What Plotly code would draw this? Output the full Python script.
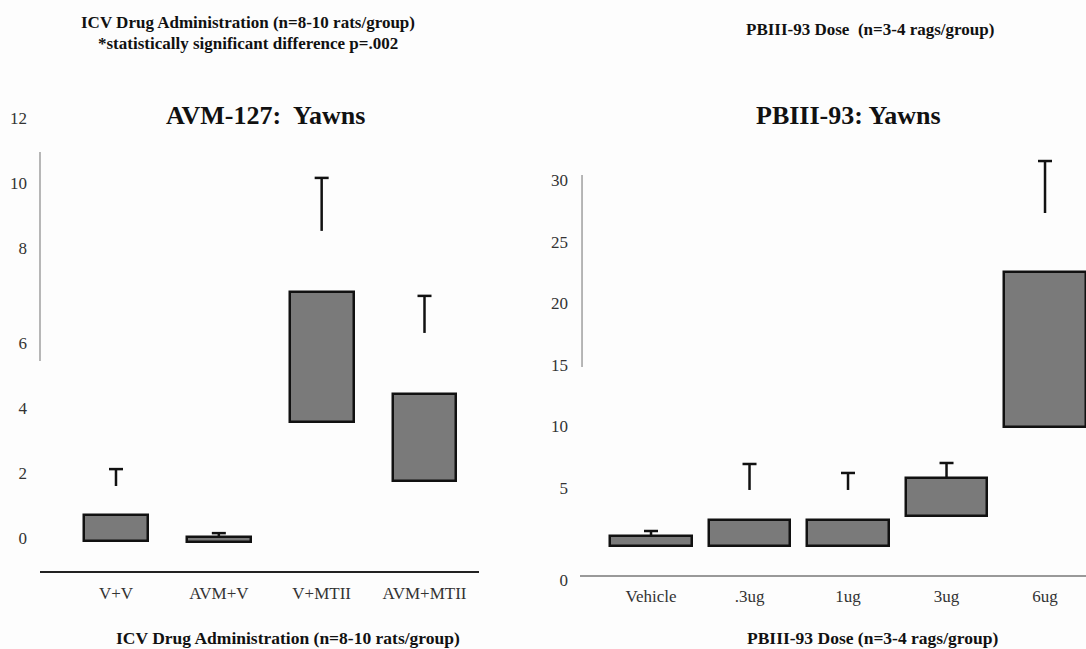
import plotly.graph_objects as go

# ---------------- data ----------------
avm_groups = ["V+V", "AVM+V", "V+MTII", "AVM+MTII"]
avm_bar_low = [-0.09, -0.12, 3.57, 1.75]
avm_bar_high = [0.71, 0.03, 7.57, 4.43]
avm_err_low = [1.60, 0.03, 9.45, 6.31]
avm_err_high = [2.12, 0.15, 11.08, 7.45]
avm_tick_labels = ["0", "2", "4", "6", "8", "10", "12"]
avm_tick_vals = [0, 2, 4, 6, 8.92, 10.92, 12.92]

pb_groups = ["Vehicle", ".3ug", "1ug", "3ug", "6ug"]
pb_bar_low = [0.29, 0.29, 0.29, 2.73, 9.95]
pb_bar_high = [1.10, 2.40, 2.40, 5.81, 22.53]
pb_err_low = [1.10, 4.84, 4.84, 5.81, 27.32]
pb_err_high = [1.51, 6.95, 6.22, 7.03, 31.54]
pb_tick_labels = ["0", "5", "10", "15", "20", "25", "30"]
pb_tick_vals = [-2.47, 5, 10, 15, 20, 25, 30]

# ---------------- figure ----------------
W, H = 1086, 649
FONT = "Liberation Serif"
BAR_FILL = "#7a7a7a"
INK = "#111111"


def px_x(p):
    return p / W


def px_y(p):
    return 1 - p / H


fig = go.Figure()


def add_panel(groups, lo, hi, elo, ehi, xa, ya, width):
    fig.add_trace(go.Bar(
        x=groups, y=[h - l for l, h in zip(lo, hi)], base=lo,
        width=width, marker=dict(color=BAR_FILL, line=dict(color=INK, width=2.5)),
        xaxis=xa, yaxis=ya, showlegend=False, hoverinfo="skip"))
    ex, ey = [], []
    for g, a, b in zip(groups, elo, ehi):
        ex += [g, g, g]
        ey += [a, b, None]
    fig.add_trace(go.Scatter(
        x=ex, y=ey, mode="lines", line=dict(color=INK, width=2.5),
        xaxis=xa, yaxis=ya, showlegend=False, hoverinfo="skip", connectgaps=False))
    fig.add_trace(go.Scatter(
        x=groups, y=ehi, mode="markers",
        marker=dict(symbol="line-ew", size=10, line=dict(color=INK, width=2.5)),
        xaxis=xa, yaxis=ya, showlegend=False, hoverinfo="skip"))


add_panel(avm_groups, avm_bar_low, avm_bar_high, avm_err_low, avm_err_high, "x", "y", 0.62)
add_panel(pb_groups, pb_bar_low, pb_bar_high, pb_err_low, pb_err_high, "x2", "y2", 0.83)

tickfont = dict(family=FONT, size=17, color="#333333")

PB_ZERO_PX, PB_PX_PER = 549.6, 12.32
PB_BOTTOM_PX = 584
PB_AXIS_PX = 576

fig.update_layout(
    width=W, height=H,
    margin=dict(l=0, r=0, t=0, b=0, pad=0, autoexpand=False),
    paper_bgcolor="#fdfdfd", plot_bgcolor="rgba(0,0,0,0)",
    bargap=0,
    xaxis=dict(domain=[px_x(40), px_x(479)], range=[-0.739, 3.53],
               showline=True, linecolor="#222222", linewidth=2,
               showgrid=False, zeroline=False, ticks="", tickfont=tickfont,
               anchor="y", ticklabelstandoff=6, automargin=False),
    yaxis=dict(domain=[px_y(571), px_y(100)], range=[(538 - 571) / 32.5, (538 - 100) / 32.5],
               showline=False, showgrid=False, zeroline=False, ticks="",
               tickvals=avm_tick_vals, ticktext=avm_tick_labels, tickfont=tickfont,
               anchor="x", ticklabelstandoff=12, automargin=False),
    xaxis2=dict(domain=[px_x(580), 1.0], range=[-0.721, 4.416],
                showline=False,
                showgrid=False, zeroline=False, ticks="", tickfont=tickfont,
                anchor="y2", ticklabelstandoff=0, automargin=False),
    yaxis2=dict(domain=[px_y(PB_BOTTOM_PX), px_y(100)],
                range=[(PB_ZERO_PX - PB_BOTTOM_PX) / PB_PX_PER, (PB_ZERO_PX - 100) / PB_PX_PER],
                showline=False, showgrid=False, zeroline=False, ticks="",
                tickvals=pb_tick_vals, ticktext=pb_tick_labels, tickfont=tickfont,
                anchor="x2", ticklabelstandoff=11, automargin=False),
    shapes=[
        dict(type="line", xref="x domain", yref="y", x0=0, x1=0,
             y0=(538 - 152) / 32.5, y1=(538 - 361) / 32.5,
             line=dict(color="#888888", width=1.2)),
        dict(type="line", xref="x2 domain", yref="y2", x0=0.004, x1=0.004,
             y0=(PB_ZERO_PX - 175) / PB_PX_PER, y1=(PB_ZERO_PX - 367) / PB_PX_PER,
             line=dict(color="#888888", width=1.2)),
        dict(type="line", xref="x2 domain", yref="y2", x0=0, x1=1,
             y0=(PB_ZERO_PX - PB_AXIS_PX) / PB_PX_PER, y1=(PB_ZERO_PX - PB_AXIS_PX) / PB_PX_PER,
             line=dict(color="#777777", width=1.5)),
    ],
)


def note(text, x, y, size, bold=True):
    fig.add_annotation(
        text=f"<b>{text}</b>" if bold else text,
        x=px_x(x), y=px_y(y), xref="paper", yref="paper",
        xanchor="center", yanchor="middle", showarrow=False,
        font=dict(family=FONT, size=size, color="#111111"))


note("ICV Drug Administration (n=8-10 rats/group)", 248, 23, 17)
note("*statistically significant difference p=.002", 248, 43, 17)
note("PBIII-93 Dose  (n=3-4 rags/group)", 870, 30, 17)
note("AVM-127:  Yawns", 265, 116, 26)
note("PBIII-93: Yawns", 848, 116, 26)
note("ICV Drug Administration (n=8-10 rats/group)", 288, 638, 17.5)
note("PBIII-93 Dose (n=3-4 rags/group)", 872, 638, 17.5)

fig.write_html("out.html", config={"displayModeBar": False},
               post_script="document.body.style.margin='0';document.body.style.overflow='hidden';")
